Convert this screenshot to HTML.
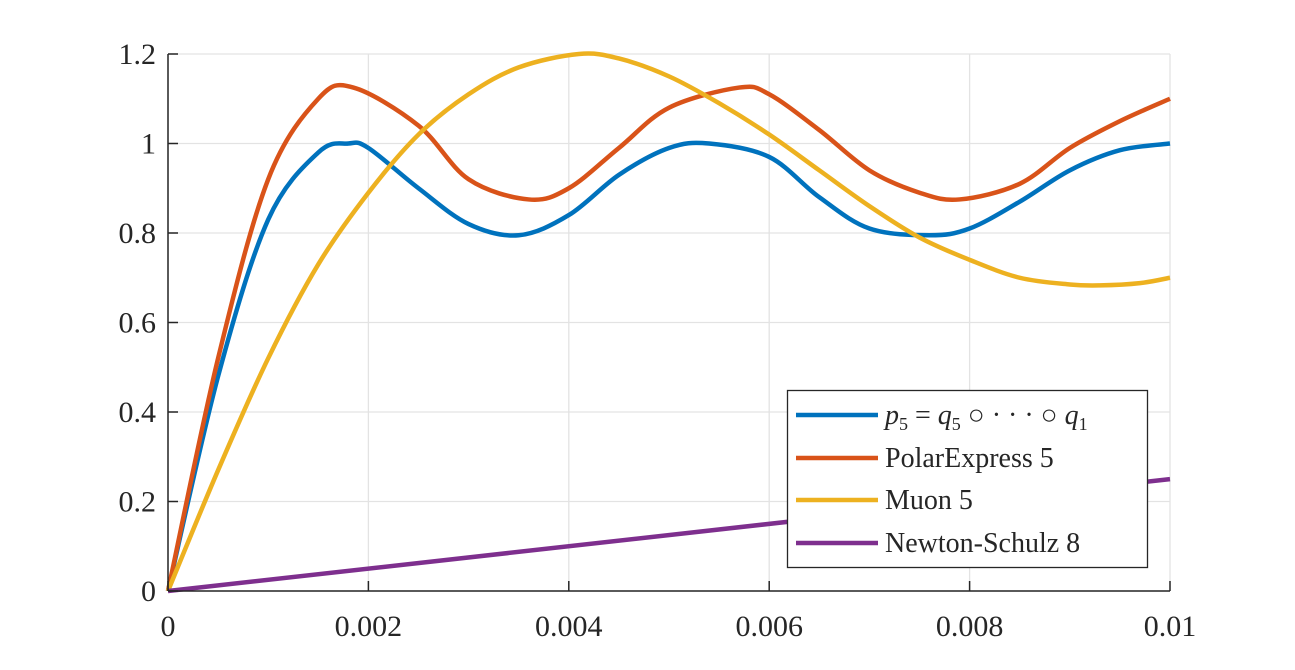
<!DOCTYPE html>
<html><head><meta charset="utf-8"><style>
body{margin:0;background:#fff;}
svg text{font-family:"Liberation Serif","DejaVu Serif",serif;fill:#262626;}
</style></head><body>
<svg id="chart" width="1295" height="665" xmlns="http://www.w3.org/2000/svg"></svg>
<script>
const xTicks=[0,0.002,0.004,0.006,0.008,0.01];
const xTickLabels=["0","0.002","0.004","0.006","0.008","0.01"];
const yTicks=[0,0.2,0.4,0.6,0.8,1,1.2];
const yTickLabels=["0","0.2","0.4","0.6","0.8","1","1.2"];
const blueX=[0,0.0005,0.001,0.0015,0.0018,0.002,0.0025,0.003,0.0035,0.004,0.0045,0.005,0.0054,0.006,0.0065,0.007,0.0076,0.008,0.0085,0.009,0.0095,0.01];
const blueY=[0,0.48,0.83,0.98,1.0,0.99,0.9,0.82,0.795,0.84,0.93,0.99,1.0,0.97,0.88,0.81,0.795,0.81,0.87,0.94,0.985,1.0];
const orangeX=[0,0.0005,0.001,0.0015,0.00185,0.0025,0.003,0.0036,0.004,0.0045,0.005,0.0057,0.006,0.0065,0.007,0.0075,0.0079,0.0085,0.009,0.0095,0.01];
const orangeY=[0,0.52,0.92,1.10,1.125,1.04,0.92,0.875,0.90,0.99,1.08,1.125,1.11,1.03,0.94,0.89,0.875,0.91,0.99,1.05,1.10];
const yellowX=[0,0.0005,0.001,0.0015,0.002,0.0025,0.003,0.0035,0.0041,0.0045,0.005,0.0055,0.006,0.0065,0.007,0.0075,0.008,0.0085,0.009,0.0093,0.0097,0.01];
const yellowY=[0,0.27,0.52,0.73,0.89,1.02,1.11,1.17,1.20,1.19,1.15,1.09,1.02,0.94,0.86,0.79,0.74,0.70,0.685,0.683,0.688,0.70];
const purpleX=[0,0.01];
const purpleY=[0,0.25];
const seriesNames=["p5","PolarExpress 5","Muon 5","Newton-Schulz 8"];

const NS="http://www.w3.org/2000/svg";
const svg=document.getElementById('chart');
const X0=168,X1=1170,Y0=591,Y1=54;
const sx=v=>X0+(v-0)/(0.01)*(X1-X0);
const sy=v=>Y0-(v/1.2)*(Y0-Y1);
function mk(t,a,p){const e=document.createElementNS(NS,t);for(const k in a)e.setAttribute(k,a[k]);(p||svg).appendChild(e);return e;}

const grid=mk('g',{});


xTicks.forEach(v=>mk('line',{x1:sx(v),x2:sx(v),y1:Y0,y2:Y1,stroke:'#e3e3e3','stroke-width':1.3},grid));
yTicks.forEach(v=>mk('line',{x1:X0,x2:X1,y1:sy(v),y2:sy(v),stroke:'#e3e3e3','stroke-width':1.3},grid));

function smooth(xs,ys){
  const p=xs.map((x,i)=>[sx(x),sy(ys[i])]);
  if(p.length<3)return 'M'+p.map(q=>q.join(',')).join('L');
  let d='M'+p[0][0]+','+p[0][1];
  for(let i=0;i<p.length-1;i++){
    const p0=p[i-1]||p[i],p1=p[i],p2=p[i+1],p3=p[i+2]||p2;
    const c1=[p1[0]+(p2[0]-p0[0])/6,p1[1]+(p2[1]-p0[1])/6];
    const c2=[p2[0]-(p3[0]-p1[0])/6,p2[1]-(p3[1]-p1[1])/6];
    d+='C'+c1+' '+c2+' '+p2;
  }
  return d;
}
const series=[[yellowX,yellowY,'#EDB120','muon-5-line'],[blueX,blueY,'#0072BD','p5-line'],[orangeX,orangeY,'#D95319','polarexpress-5-line'],[purpleX,purpleY,'#7E2F8E','newton-schulz-8-line']];
[series[1],series[2],series[0],series[3]].forEach(s=>{
  const e=mk('path',{d:smooth(s[0],s[1]),fill:'none',stroke:s[2],'stroke-width':4.5,'stroke-linejoin':'round'});
  
  
});

const ax=mk('g',{});


mk('line',{x1:X0,x2:X0,y1:Y1,y2:Y0,stroke:'#262626','stroke-width':1.5},ax);
mk('line',{x1:X0,x2:X1,y1:Y0,y2:Y0,stroke:'#262626','stroke-width':1.5},ax);
xTicks.forEach((v,i)=>{
  mk('line',{x1:sx(v),x2:sx(v),y1:Y0,y2:Y0-10,stroke:'#262626','stroke-width':1.5},ax);
  const t=mk('text',{x:sx(v),y:636,'text-anchor':'middle','font-size':30},ax);t.textContent=xTickLabels[i];
  
  
});
yTicks.forEach((v,i)=>{
  mk('line',{x1:X0,x2:X0+10,y1:sy(v),y2:sy(v),stroke:'#262626','stroke-width':1.5},ax);
  const t=mk('text',{x:156,y:sy(v)+10,'text-anchor':'end','font-size':30},ax);t.textContent=yTickLabels[i];
  
  
});
</script>
<svg style="position:absolute;left:0;top:0" width="1295" height="665">
  <rect x="787.5" y="390.5" width="360" height="177" fill="#fff" stroke="#262626" stroke-width="1.3"/>
  <g>
    <line x1="796" x2="878" y1="415" y2="415" stroke="#0072BD" stroke-width="4.5"/>
    <text x="885" y="424" font-size="28" font-family="Liberation Serif,serif" fill="#000"><tspan font-style="italic">p</tspan><tspan font-size="18" dy="6">5</tspan><tspan dy="-6"> = </tspan><tspan font-style="italic">q</tspan><tspan font-size="18" dy="6">5</tspan><tspan dy="-6"> ○ · · · ○ </tspan><tspan font-style="italic">q</tspan><tspan font-size="18" dy="6">1</tspan></text>
  </g>
  <g>
    <line x1="796" x2="878" y1="458" y2="458" stroke="#D95319" stroke-width="4.5"/>
    <text x="885" y="467" font-size="28" font-family="Liberation Serif,serif" fill="#000">PolarExpress 5</text>
  </g>
  <g>
    <line x1="796" x2="878" y1="500" y2="500" stroke="#EDB120" stroke-width="4.5"/>
    <text x="885" y="509" font-size="28" font-family="Liberation Serif,serif" fill="#000">Muon 5</text>
  </g>
  <g>
    <line x1="796" x2="878" y1="543" y2="543" stroke="#7E2F8E" stroke-width="4.5"/>
    <text x="885" y="552" font-size="28" font-family="Liberation Serif,serif" fill="#000">Newton-Schulz 8</text>
  </g>
</svg>
</body></html>
